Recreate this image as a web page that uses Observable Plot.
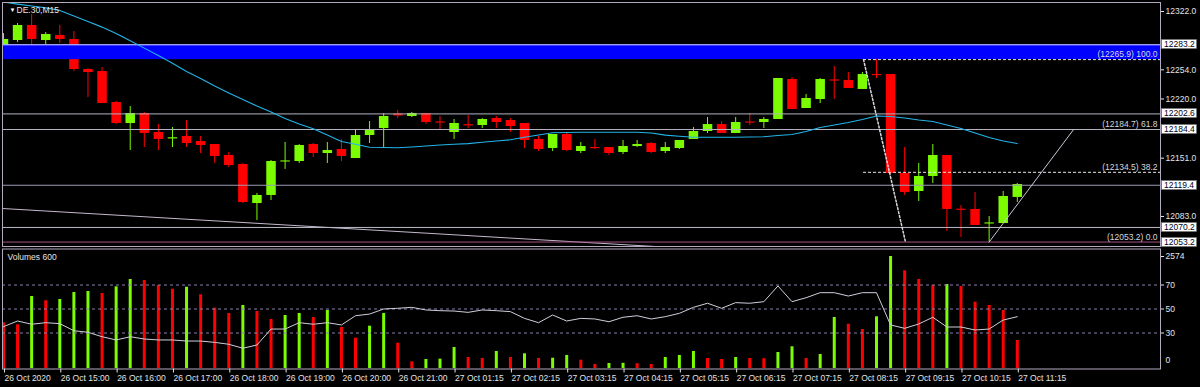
<!DOCTYPE html>
<html>
<head>
<meta charset="utf-8">
<script src="https://cdn.jsdelivr.net/npm/d3@7"></script>
<script src="https://cdn.jsdelivr.net/npm/@observablehq/plot@0.6"></script>
<style>
  html, body { margin: 0; padding: 0; background: #000; }
  #chart { position: relative; width: 1200px; height: 387px; background: #000; overflow: hidden; }
  #chart svg { position: absolute; left: 0; }
</style>
</head>
<body>
<div id="chart"></div>
<script>
// ---------------- DATA ----------------
const symbolTitle = "DE.30,M15";
const volumeTitle = "Volumes 600";

const opens = [12270.7,12288.2,12305.7,12288.2,12294.0,12289.4,12254.4,12252.0,12215.9,12191.4,
  12203.1,12180.9,12173.4,12176.3,12170.4,12166.9,12154.1,12143.6,12098.1,12107.5,
  12146.5,12147.1,12166.9,12156.4,12161.1,12150.6,12177.4,12185.6,12202.5,12199.6,
  12203.1,12193.2,12180.9,12190.0,12189.1,12197.2,12194.9,12191.4,12172.8,12162.3,
  12178.6,12158.8,12163.4,12163.4,12157.6,12164.6,12168.1,12158.8,12162.3,12172.8,
  12182.1,12190.2,12179.8,12193.2,12192.6,12196.1,12242.7,12208.9,12219.4,12242.2,
  12241.5,12231.1,12248.5,12248.5,12133.1,12112.1,12129.6,12154.1,12091.5,12091.2,
  12074.2,12074.8,12105.2];
const highs = [12296.3,12308.0,12318.5,12297.5,12305.7,12298.7,12255.5,12256.7,12217.1,12211.2,
  12204.2,12190.2,12186.8,12194.9,12176.3,12166.9,12157.6,12144.8,12109.8,12148.3,
  12169.3,12166.9,12168.1,12169.3,12172.8,12184.4,12193.7,12203.1,12206.6,12204.2,
  12203.1,12199.6,12196.1,12200.7,12197.2,12199.6,12197.2,12191.4,12176.3,12178.6,
  12179.8,12169.3,12172.8,12163.4,12171.6,12171.6,12169.3,12169.3,12171.6,12186.8,
  12198.4,12193.7,12198.4,12203.1,12198.4,12243.9,12245.0,12225.2,12243.9,12257.9,
  12250.9,12250.9,12265.9,12248.5,12163.4,12144.8,12166.9,12154.1,12095.8,12111.0,
  12083.0,12112.1,12121.5];
const lows = [12268.4,12285.8,12275.4,12275.4,12284.7,12252.0,12221.7,12214.7,12190.2,12159.9,
  12163.4,12159.9,12163.4,12163.4,12156.4,12144.8,12140.1,12098.1,12078.3,12101.6,
  12137.8,12144.8,12151.8,12144.8,12147.1,12150.6,12168.1,12163.4,12197.2,12198.4,
  12190.2,12184.4,12172.8,12185.6,12185.6,12185.6,12180.9,12162.3,12158.8,12158.8,
  12158.8,12156.4,12161.1,12154.1,12155.3,12163.4,12156.4,12156.4,12161.1,12172.8,
  12179.8,12179.8,12179.8,12189.1,12185.6,12196.1,12207.7,12208.9,12214.7,12219.4,
  12232.2,12231.1,12243.9,12132.0,12107.5,12100.5,12121.5,12065.5,12058.5,12072.5,
  12053.2,12074.8,12099.3];
const closes = [12289.4,12305.7,12289.4,12295.2,12289.4,12254.4,12250.9,12214.7,12191.4,12203.1,
  12179.8,12172.8,12174.8,12168.1,12165.8,12153.0,12142.4,12099.3,12107.5,12147.1,
  12147.8,12165.8,12156.4,12159.9,12153.0,12177.4,12184.4,12199.6,12200.2,12203.1,
  12192.6,12191.9,12191.4,12188.6,12196.1,12192.6,12187.9,12171.6,12161.1,12178.6,
  12159.9,12164.6,12162.1,12156.4,12164.6,12166.9,12157.6,12163.4,12171.6,12182.1,
  12190.2,12179.8,12192.6,12191.9,12196.1,12243.9,12207.7,12220.6,12242.7,12240.9,
  12232.2,12248.5,12247.2,12133.1,12111.0,12129.6,12154.1,12091.2,12090.2,12072.5,
  12075.5,12106.3,12120.3];

const maValues = [12333.0,12330.6,12328.4,12326.2,12323.3,12316.7,12310.3,12303.8,12296.3,12288.0,
  12279.3,12270.7,12261.7,12252.0,12243.9,12235.1,12227.0,12219.4,12211.8,12204.8,
  12197.2,12190.8,12185.2,12178.0,12170.4,12167.3,12163.7,12163.4,12163.1,12164.0,
  12165.2,12166.4,12167.2,12167.9,12169.5,12171.0,12172.4,12175.3,12178.0,12180.7,
  12180.9,12181.2,12181.3,12181.3,12181.3,12181.3,12180.3,12177.9,12176.5,12175.4,
  12175.4,12175.4,12175.4,12175.7,12176.0,12177.4,12178.6,12182.1,12186.8,12189.7,
  12192.6,12196.1,12200.2,12199.6,12197.8,12195.5,12193.8,12189.7,12185.6,12180.3,
  12175.1,12171.0,12168.1];

const volumes = [1050,1004,1655,1556,1586,1746,1769,1724,1877,2045,
  2022,1907,1822,1868,1694,1386,1264,1448,1310,1126,
  1218,1264,1172,1333,942,696,972,1264,581,154,
  207,215,483,253,230,391,253,338,230,236,
  299,191,92,115,120,110,92,253,299,391,
  230,207,253,230,225,368,499,230,322,1172,
  1018,896,1188,2574,2245,2045,1907,1930,1884,1524,
  1448,1333,643];

const oscillator = [35.3,40,37.3,38.6,37.8,31.9,30.6,26.9,24.2,26.9,
  25,24.2,24.2,23.3,23.3,22.2,20.6,17.3,20,33.3,
  33.3,38.6,37.3,38.6,36.7,44.4,45.8,50,50.6,51.4,
  49.2,48.6,48.3,47.2,49.2,48.6,47.8,42.2,38.6,45,
  40,42.2,41.7,39.4,43.1,44.4,41.7,43.6,46.4,51.4,
  54.8,50.6,55.3,54.8,56.1,69.2,56.1,59.4,63.6,63.6,
  60.8,63.6,63.6,36.7,33.9,37.5,43.1,35,35,32.5,
  33.3,40.8,43.6];
const oscLevels = [30, 50, 70];
const volumeMax = 2574;

const timeTickIndex = [0,4,8,12,16,20,24,28,32,36,40,44,48,52,56,60,64,68,72];
const timeTickLabels = ["26 Oct 2020","26 Oct 15:00","26 Oct 16:00","26 Oct 17:00","26 Oct 18:00",
  "26 Oct 19:00","26 Oct 20:00","26 Oct 21:00","27 Oct 01:15","27 Oct 02:15","27 Oct 03:15",
  "27 Oct 04:15","27 Oct 05:15","27 Oct 06:15","27 Oct 07:15","27 Oct 08:15","27 Oct 09:15",
  "27 Oct 10:15","27 Oct 11:15"];

const priceTicks = [12322.0, 12254.0, 12220.0, 12151.0, 12083.0];
const levelPrices = [12283.2, 12202.6, 12184.4, 12119.4, 12070.2, 12053.2];
const bandPrices = [12265.9, 12283.2];

const fibRatios = [100.0, 61.8, 38.2, 0.0];
const fibPrices = [12265.9, 12184.7, 12134.5, 12053.2];
const fibDashedRatios = [100.0, 38.2];
const fibAnchorIndex = [61.08, 64.06];
const fibAnchorPrice = [12265.9, 12053.2];

const trendIndex = [70, 76];
const trendPrice = [12053.2, 12184.4];

const slowLineIndex = [-0.07, 48.08];
const slowLinePrice = [12092.3, 12046.3];

// ---------------- STYLE ----------------
const X_DOMAIN = [-0.07, 82.17];
const Y_DOMAIN = [12048.0, 12332.5];
const FONT = "'Liberation Sans', Arial, sans-serif";
const UP = "#7cfc00", DOWN = "#ff0000";
const FRAME = "#b4aac0";
const TEXT = "#e4e4e4";
const levelStroke = ["#dcdcff", "#b4b4c4", "#b4b4c4", "#9a9ab2", "#bcbcc8", "#a0507e"];

// ---------------- BUILD ----------------
const candles = opens.map((o, i) => ({i, o, h: highs[i], l: lows[i], c: closes[i], up: closes[i] >= o}));
const maData = maValues.map((v, i) => ({i, v}));
const volData = volumes.map((v, i) => ({i, v, up: i > 0 && v > volumes[i - 1]}));
const oscData = oscillator.map((v, i) => ({i, v}));
const levels = levelPrices.map((p, k) => ({p, k}));
const fib = fibRatios.map((r, k) => ({r, p: fibPrices[k], label: `(${fibPrices[k].toFixed(1)}) ${r.toFixed(1)}`}));
const fibDashed = fib.filter(d => fibDashedRatios.includes(d.r));
const fibDiag = fibAnchorIndex.map((x, k) => ({x, p: fibAnchorPrice[k]}));
const trend = trendIndex.map((x, k) => ({x, p: trendPrice[k]}));
const slow = slowLineIndex.map((x, k) => ({x, p: slowLinePrice[k]}));
const tickLabel = new Map(timeTickIndex.map((d, k) => [d, timeTickLabels[k]]));

function boxedLabels(values) {
  return (index, scales, vals, dims) => {
    const sy = typeof scales.y === "function" ? scales.y : scales.scales.y.apply;
    const g = d3.create("svg:g");
    const x0 = dims.width - dims.marginRight + 1;
    for (const v of values) {
      const y = sy(v);
      g.append("rect").attr("x", x0 + 0.5).attr("y", Math.round(y) - 4.5)
        .attr("width", 35).attr("height", 9).attr("fill", "#ffffff").attr("stroke", "#707070").attr("stroke-width", 0.6);
      g.append("text").attr("x", x0 + 3).attr("y", y).attr("dy", "0.35em")
        .attr("text-anchor", "start")
        .attr("fill", "#000020").attr("font-size", "8.5px").attr("font-family", FONT).text(v.toFixed(1));
    }
    return g.node();
  };
}

const main = Plot.plot({
  width: 1200, height: 248,
  marginTop: 2, marginBottom: 2, marginLeft: 2, marginRight: 40,
  style: {background: "transparent", color: TEXT, fontFamily: FONT, fontSize: "8.5px", overflow: "hidden"},
  x: {domain: X_DOMAIN, axis: null},
  y: {domain: Y_DOMAIN, axis: null},
  marks: [
    Plot.line(slow, {x: "x", y: "p", stroke: "#c4b8cc", strokeWidth: 1, clip: true}),
    Plot.ruleX(candles, {x: "i", y1: "l", y2: "h", stroke: d => d.up ? UP : DOWN, strokeWidth: 1, clip: true}),
    Plot.ruleX(candles, {x: "i", y1: "o", y2: "c", stroke: d => d.up ? UP : DOWN, strokeWidth: 9.5, clip: true}),
    Plot.rect([{y1: bandPrices[0], y2: bandPrices[1]}], {y1: "y1", y2: "y2", fill: "#0000ff"}),
    Plot.ruleY(fibDashed, {y: "p", x1: fibAnchorIndex[0], x2: X_DOMAIN[1], stroke: "#e8e8e8", strokeDasharray: "3,2"}),
    Plot.ruleY(levels, {y: "p", stroke: d => levelStroke[d.k], strokeWidth: 1}),
    Plot.line(fibDiag, {x: "x", y: "p", stroke: "#d8d8e0", strokeDasharray: "2,2"}),
    Plot.line(trend, {x: "x", y: "p", stroke: "#c8c8d8", strokeWidth: 1}),
    Plot.line(maData, {x: "i", y: "v", stroke: "#22b4e8", strokeWidth: 1.1, clip: true}),
    Plot.text(fib, {x: X_DOMAIN[1], y: "p", text: "label", textAnchor: "end", dx: -3, dy: -5, fill: "#d8d8d8", fontSize: 8.5}),
    Plot.frame({stroke: FRAME}),
    Plot.axisY(priceTicks, {anchor: "right", tickSize: 3, tickPadding: 2, tickFormat: d => d.toFixed(1), label: null, fontSize: 8.5}),
    boxedLabels(levelPrices),
    Plot.text(["\u25BC"], {frameAnchor: "top-left", dx: 7, dy: 7.5, lineAnchor: "middle", fontSize: 6, fill: "#ffffff"}),
    Plot.text([symbolTitle], {frameAnchor: "top-left", dx: 14, dy: 7.5, lineAnchor: "middle", textAnchor: "start", fontSize: 8.5, fill: TEXT})
  ]
});
main.style.top = "0px";

const vol = Plot.plot({
  width: 1200, height: 139,
  marginTop: 8, marginBottom: 19, marginLeft: 2, marginRight: 40,
  style: {background: "transparent", color: TEXT, fontFamily: FONT, fontSize: "8.5px"},
  x: {domain: X_DOMAIN, axis: null},
  y: {domain: [0, volumeMax], axis: null},
  marks: [
    Plot.ruleX(volData, {x: "i", y1: 0, y2: "v", stroke: d => d.up ? UP : DOWN, strokeWidth: 3}),
    Plot.axisY([volumeMax], {anchor: "right", tickSize: 3, tickPadding: 2, tickFormat: d => String(d), label: null, fontSize: 8.5}),
    Plot.text(["0"], {frameAnchor: "bottom-right", dx: 5, dy: -6, textAnchor: "start", fontSize: 8.5, fill: TEXT})
  ]
});
vol.style.top = "248px";

const osc = Plot.plot({
  width: 1200, height: 139,
  marginTop: 0.5, marginBottom: 18.5, marginLeft: 2, marginRight: 40,
  style: {background: "transparent", color: TEXT, fontFamily: FONT, fontSize: "8.5px"},
  x: {domain: X_DOMAIN, axis: null},
  y: {domain: [0, 100], axis: null},
  marks: [
    Plot.ruleY(oscLevels, {stroke: "#8c80ac", strokeDasharray: "3,3"}),
    Plot.line(oscData, {x: "i", y: "v", stroke: "#cfcfdc", strokeWidth: 1}),
    Plot.frame({stroke: FRAME}),
    Plot.axisY(oscLevels, {anchor: "right", tickSize: 3, tickPadding: 2, label: null, fontSize: 8.5}),
    Plot.axisX(timeTickIndex, {anchor: "bottom", tickSize: 4, tickPadding: 2, textAnchor: "start", dx: 1,
      tickFormat: d => tickLabel.get(d), label: null, fontSize: 8.5}),
    Plot.text([volumeTitle], {frameAnchor: "top-left", dx: 5, dy: 8.5, lineAnchor: "middle", textAnchor: "start", fontSize: 8.5, fill: TEXT})
  ]
});
osc.style.top = "248px";

const host = document.getElementById("chart");
host.append(main, vol, osc);
</script>
</body>
</html>
